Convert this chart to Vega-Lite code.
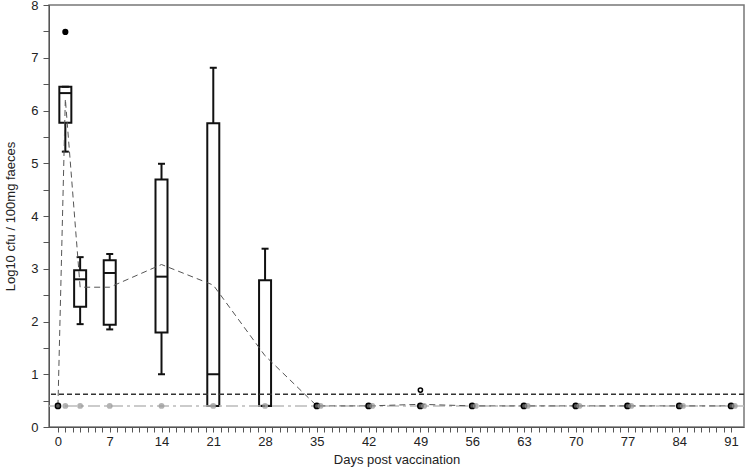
{
  "$schema": "https://vega.github.io/schema/vega-lite/v6.json",
  "width": 695,
  "height": 422,
  "autosize": {"type": "none"},
  "padding": {"left": 49, "top": 5, "right": 2, "bottom": 44},
  "config": {
    "font": "Liberation Sans",
    "view": {"stroke": "#777", "strokeWidth": 1.5},
    "axis": {"labelFontSize": 13, "titleFontSize": 13, "titleFontWeight": "normal", "labelColor": "#222", "titleColor": "#222", "domainColor": "#555", "tickColor": "#555", "grid": false, "ticks": true, "labelFont": "Liberation Sans", "titleFont": "Liberation Sans"}
  },
  "datasets": {
    "boxes": [
      {"day": 1, "lo": 5.22, "q1": 5.77, "med": 6.33, "q3": 6.45, "hi": 6.45},
      {"day": 3, "lo": 1.95, "q1": 2.28, "med": 2.80, "q3": 2.97, "hi": 3.22},
      {"day": 7, "lo": 1.85, "q1": 1.94, "med": 2.92, "q3": 3.16, "hi": 3.28},
      {"day": 14, "lo": 1.0, "q1": 1.79, "med": 2.85, "q3": 4.69, "hi": 4.99},
      {"day": 21, "lo": 0.4, "q1": 0.4, "med": 1.0, "q3": 5.76, "hi": 6.81},
      {"day": 28, "lo": 0.4, "q1": 0.4, "med": 0.4, "q3": 2.78, "hi": 3.38}
    ],
    "mean": [
      {"day": 0, "v": 0.4}, {"day": 1, "v": 6.22}, {"day": 3, "v": 2.65}, {"day": 7, "v": 2.65},
      {"day": 14, "v": 3.08}, {"day": 21, "v": 2.69}, {"day": 28, "v": 1.35}, {"day": 35, "v": 0.4},
      {"day": 42, "v": 0.4}, {"day": 49, "v": 0.43}, {"day": 56, "v": 0.4}, {"day": 63, "v": 0.4},
      {"day": 70, "v": 0.4}, {"day": 77, "v": 0.4}, {"day": 84, "v": 0.4}, {"day": 91, "v": 0.4}
    ],
    "black": [
      {"day": 0, "v": 0.4}, {"day": 35, "v": 0.4}, {"day": 42, "v": 0.4}, {"day": 49, "v": 0.4},
      {"day": 56, "v": 0.4}, {"day": 63, "v": 0.4}, {"day": 70, "v": 0.4}, {"day": 77, "v": 0.4},
      {"day": 84, "v": 0.4}, {"day": 91, "v": 0.4}
    ],
    "gray": [
      {"day": 1, "v": 0.4}, {"day": 3, "v": 0.4}, {"day": 7, "v": 0.4}, {"day": 14, "v": 0.4},
      {"day": 21, "v": 0.4}, {"day": 28, "v": 0.4}, {"day": 35.5, "v": 0.4}, {"day": 42.5, "v": 0.4},
      {"day": 49.5, "v": 0.4}, {"day": 56.5, "v": 0.4}, {"day": 63.5, "v": 0.4}, {"day": 70.5, "v": 0.4},
      {"day": 77.5, "v": 0.4}, {"day": 84.5, "v": 0.4}, {"day": 91.5, "v": 0.4}
    ],
    "limits": [{"lod": 0.62, "floor": 0.4}],
    "outFilled": [{"day": 1, "v": 7.49}],
    "outOpen": [{"day": 49, "v": 0.70}]
  },
  "encoding": {
    "x": {
      "field": "day", "type": "quantitative", "title": "Days post vaccination",
      "scale": {"domain": [-0.533, 92.07], "nice": false, "zero": false},
      "axis": {
        "values": [0,1,2,3,4,5,6,7,8,9,10,11,12,13,14,15,16,17,18,19,20,21,22,23,24,25,26,27,28,29,30,31,32,33,34,35,36,37,38,39,40,41,42,43,44,45,46,47,48,49,50,51,52,53,54,55,56,57,58,59,60,61,62,63,64,65,66,67,68,69,70,71,72,73,74,75,76,77,78,79,80,81,82,83,84,85,86,87,88,89,90,91],
        "labelExpr": "datum.value % 7 === 0 ? format(datum.value, 'd') : ''",
        "ticks": true, "tickSize": 5, "labelPadding": 3, "titlePadding": 5, "labelOverlap": false, "labelFlush": false
      }
    },
    "y": {
      "field": "v", "type": "quantitative", "title": "Log10 cfu / 100mg faeces",
      "scale": {"domain": [0, 8], "nice": false},
      "axis": {
        "values": [0,0.5,1,1.5,2,2.5,3,3.5,4,4.5,5,5.5,6,6.5,7,7.5,8],
        "labelExpr": "datum.value % 1 === 0 ? format(datum.value, 'd') : ''",
        "ticks": true, "tickSize": 6, "labelPadding": 5, "titlePadding": 13, "labelOverlap": false, "labelFlush": false,
        "encode": {"ticks": {"update": {"x2": {"signal": "datum.value % 1 === 0 ? -6 : -3"}}}}
      }
    }
  },
  "layer": [
    {
      "data": {"name": "boxes"},
      "mark": {"type": "rule", "color": "#111", "strokeWidth": 2},
      "encoding": {
        "y": {"field": "lo", "type": "quantitative", "title": "Log10 cfu / 100mg faeces"},
        "y2": {"field": "hi"}
      }
    },
    {
      "data": {"name": "boxes"},
      "mark": {"type": "bar", "width": 12, "fill": "white", "stroke": "#111", "strokeWidth": 2},
      "encoding": {
        "y": {"field": "q1", "type": "quantitative", "title": "Log10 cfu / 100mg faeces"},
        "y2": {"field": "q3"}
      }
    },
    {
      "data": {"name": "boxes"},
      "mark": {"type": "tick", "orient": "horizontal", "size": 12, "thickness": 2, "color": "#111", "opacity": 1},
      "encoding": {
        "y": {"field": "med", "type": "quantitative", "title": "Log10 cfu / 100mg faeces"}
      }
    },
    {
      "data": {"name": "boxes"},
      "transform": [{"fold": ["lo", "hi"], "as": ["k", "v"]}],
      "mark": {"type": "tick", "orient": "horizontal", "size": 7, "thickness": 2, "color": "#111", "opacity": 1}
    },
    {
      "data": {"name": "limits"},
      "mark": {"type": "rule", "color": "#333", "strokeWidth": 1.5, "strokeDash": [5, 3]},
      "encoding": {"x": null, "y": {"field": "lod", "type": "quantitative", "title": "Log10 cfu / 100mg faeces"}}
    },
    {
      "data": {"name": "limits"},
      "mark": {"type": "rule", "color": "#bbb", "strokeWidth": 1.5, "strokeDash": [12, 4, 3, 4]},
      "encoding": {"x": null, "y": {"field": "floor", "type": "quantitative", "title": "Log10 cfu / 100mg faeces"}}
    },
    {
      "data": {"name": "mean"},
      "mark": {"type": "line", "color": "#555", "strokeWidth": 1, "strokeDash": [6, 4]},
      "encoding": {}
    },
    {
      "data": {"name": "black"},
      "mark": {"type": "point", "shape": "circle", "filled": true, "fill": "#555", "stroke": "#000", "strokeWidth": 1.5, "size": 28, "opacity": 1}
    },
    {
      "data": {"name": "gray"},
      "mark": {"type": "point", "shape": "circle", "filled": true, "color": "#999", "size": 34, "opacity": 0.75}
    },
    {
      "data": {"name": "outFilled"},
      "mark": {"type": "point", "shape": "circle", "filled": true, "color": "#000", "size": 38, "opacity": 1}
    },
    {
      "data": {"name": "outOpen"},
      "mark": {"type": "point", "shape": "circle", "filled": false, "color": "#000", "strokeWidth": 1.5, "size": 18, "opacity": 1}
    }
  ]
}
